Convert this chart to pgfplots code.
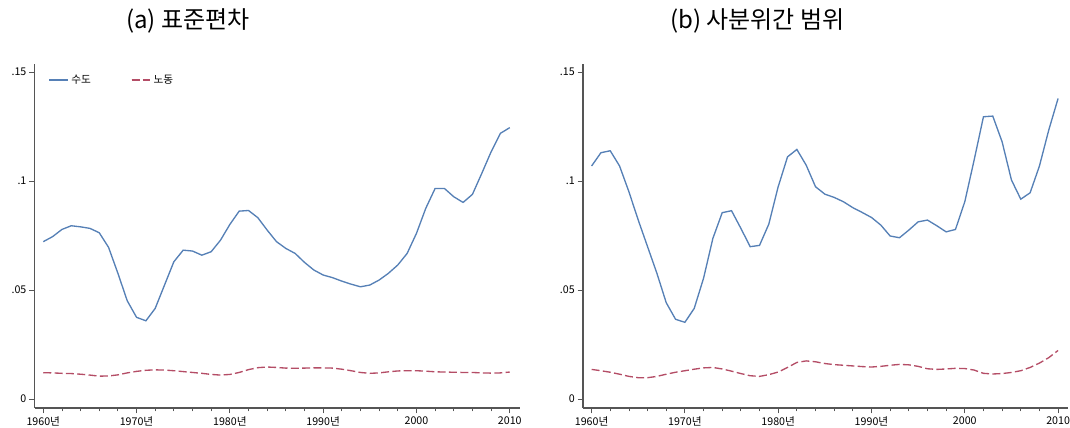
\documentclass[border=0pt]{standalone}
\usepackage{fontspec}
\setmainfont{Noto Sans CJK KR}
\usepackage{pgfplots}
\usepackage{pgfplotstable}
\pgfplotsset{compat=1.18}

\definecolor{capblue}{HTML}{5680B6}
\definecolor{labred}{HTML}{B44D66}
\definecolor{axisgray}{HTML}{555555}

% year, capital (수도), labour (노동): standard deviation
\pgfplotstableread{
year sudo nodong
1960 0.0722 0.0121
1961 0.0745 0.0120
1962 0.0778 0.0118
1963 0.0795 0.0117
1964 0.0790 0.0114
1965 0.0783 0.0110
1966 0.0763 0.0105
1967 0.0696 0.0106
1968 0.0577 0.0111
1969 0.0451 0.0120
1970 0.0375 0.0127
1971 0.0359 0.0132
1972 0.0416 0.0134
1973 0.0523 0.0133
1974 0.0630 0.0130
1975 0.0683 0.0126
1976 0.0679 0.0122
1977 0.0660 0.0118
1978 0.0676 0.0113
1979 0.0729 0.0110
1980 0.0801 0.0113
1981 0.0862 0.0122
1982 0.0865 0.0135
1983 0.0832 0.0144
1984 0.0775 0.0147
1985 0.0722 0.0145
1986 0.0691 0.0142
1987 0.0668 0.0141
1988 0.0627 0.0142
1989 0.0592 0.0143
1990 0.0569 0.0143
1991 0.0557 0.0142
1992 0.0541 0.0137
1993 0.0527 0.0130
1994 0.0515 0.0122
1995 0.0523 0.0118
1996 0.0546 0.0120
1997 0.0577 0.0125
1998 0.0615 0.0129
1999 0.0668 0.0130
2000 0.0760 0.0130
2001 0.0875 0.0128
2002 0.0966 0.0125
2003 0.0966 0.0124
2004 0.0928 0.0123
2005 0.0902 0.0122
2006 0.0939 0.0122
2007 0.1035 0.0120
2008 0.1134 0.0119
2009 0.1219 0.0120
2010 0.1245 0.0124
}\sdtable

% year, capital (수도), labour (노동): interquartile range
\pgfplotstableread{
year sudo nodong
1960 0.1069 0.0136
1961 0.1130 0.0130
1962 0.1139 0.0123
1963 0.1069 0.0114
1964 0.0951 0.0104
1965 0.0821 0.0098
1966 0.0699 0.0098
1967 0.0577 0.0104
1968 0.0442 0.0114
1969 0.0366 0.0123
1970 0.0352 0.0130
1971 0.0416 0.0137
1972 0.0554 0.0143
1973 0.0737 0.0145
1974 0.0855 0.0138
1975 0.0864 0.0128
1976 0.0783 0.0117
1977 0.0699 0.0107
1978 0.0705 0.0104
1979 0.0803 0.0112
1980 0.0974 0.0124
1981 0.1111 0.0145
1982 0.1145 0.0168
1983 0.1073 0.0175
1984 0.0974 0.0171
1985 0.0940 0.0163
1986 0.0925 0.0158
1987 0.0905 0.0155
1988 0.0878 0.0152
1989 0.0856 0.0149
1990 0.0833 0.0147
1991 0.0798 0.0150
1992 0.0748 0.0155
1993 0.0740 0.0159
1994 0.0775 0.0157
1995 0.0813 0.0150
1996 0.0821 0.0139
1997 0.0795 0.0136
1998 0.0767 0.0138
1999 0.0778 0.0141
2000 0.0905 0.0140
2001 0.1096 0.0133
2002 0.1295 0.0118
2003 0.1298 0.0115
2004 0.1180 0.0117
2005 0.1005 0.0122
2006 0.0917 0.0130
2007 0.0946 0.0145
2008 0.1069 0.0165
2009 0.1234 0.0190
2010 0.1379 0.0223
}\iqrtable

\pgfplotsset{
  panel/.style={
    scale only axis, width=364pt, height=258pt,
    xmin=1959.08, xmax=2011.1, ymin=-0.0041, ymax=0.1537,
    axis lines=left,
    axis line style={-, draw=axisgray, line width=0.8pt},
    tick align=outside,
    xtick={1960,1970,...,2010},
    xticklabels={1960년,1970년,1980년,1990년,2000,2010},
    minor x tick num=4,
    ytick={0,0.05,0.1,0.15},
    yticklabels={0,.05,.1,.15},
    major tick length=4pt, minor tick length=2.5pt,
    every tick/.style={draw=axisgray, line width=0.6pt},
    ticklabel style={font=\fontsize{8}{9.5}\selectfont, text=black},
    xticklabel style={inner sep=2pt},
    yticklabel style={inner sep=2pt},
  },
  capline/.style={capblue, line width=1pt, no markers, sharp plot},
  labline/.style={labred, line width=1pt, no markers, sharp plot, dash pattern=on 6pt off 2.5pt},
}

\begin{document}
\begin{tikzpicture}
\useasboundingbox (0,0) rectangle (802.5pt,321pt);

\node[font=\fontsize{18}{21}\selectfont] at (141pt,305pt) {(a) 표준편차};
\node[font=\fontsize{18}{21}\selectfont] at (568pt,305pt) {(b) 사분위간 범위};

\begin{axis}[panel, at={(26pt,15pt)}, anchor=south west,
  legend columns=2,
  legend style={at={(axis description cs:0.02,0.985)}, anchor=north west,
    draw=none, fill=none, font=\fontsize{8}{9.5}\selectfont,
    /tikz/every even column/.append style={column sep=28pt}},
  legend image code/.code={\path (0pt,0pt) -- (14pt,0pt); \draw[#1] (0pt,0pt) -- (10pt,0pt);},
]
\addplot[capline] table[x=year, y=sudo] {\sdtable};
\addlegendentry{수도}
\addplot[labline] table[x=year, y=nodong] {\sdtable};
\addlegendentry{노동}
\end{axis}

\begin{axis}[panel, at={(437.25pt,15pt)}, anchor=south west]
\addplot[capline] table[x=year, y=sudo] {\iqrtable};
\addplot[labline] table[x=year, y=nodong] {\iqrtable};
\end{axis}
\end{tikzpicture}
\end{document}
